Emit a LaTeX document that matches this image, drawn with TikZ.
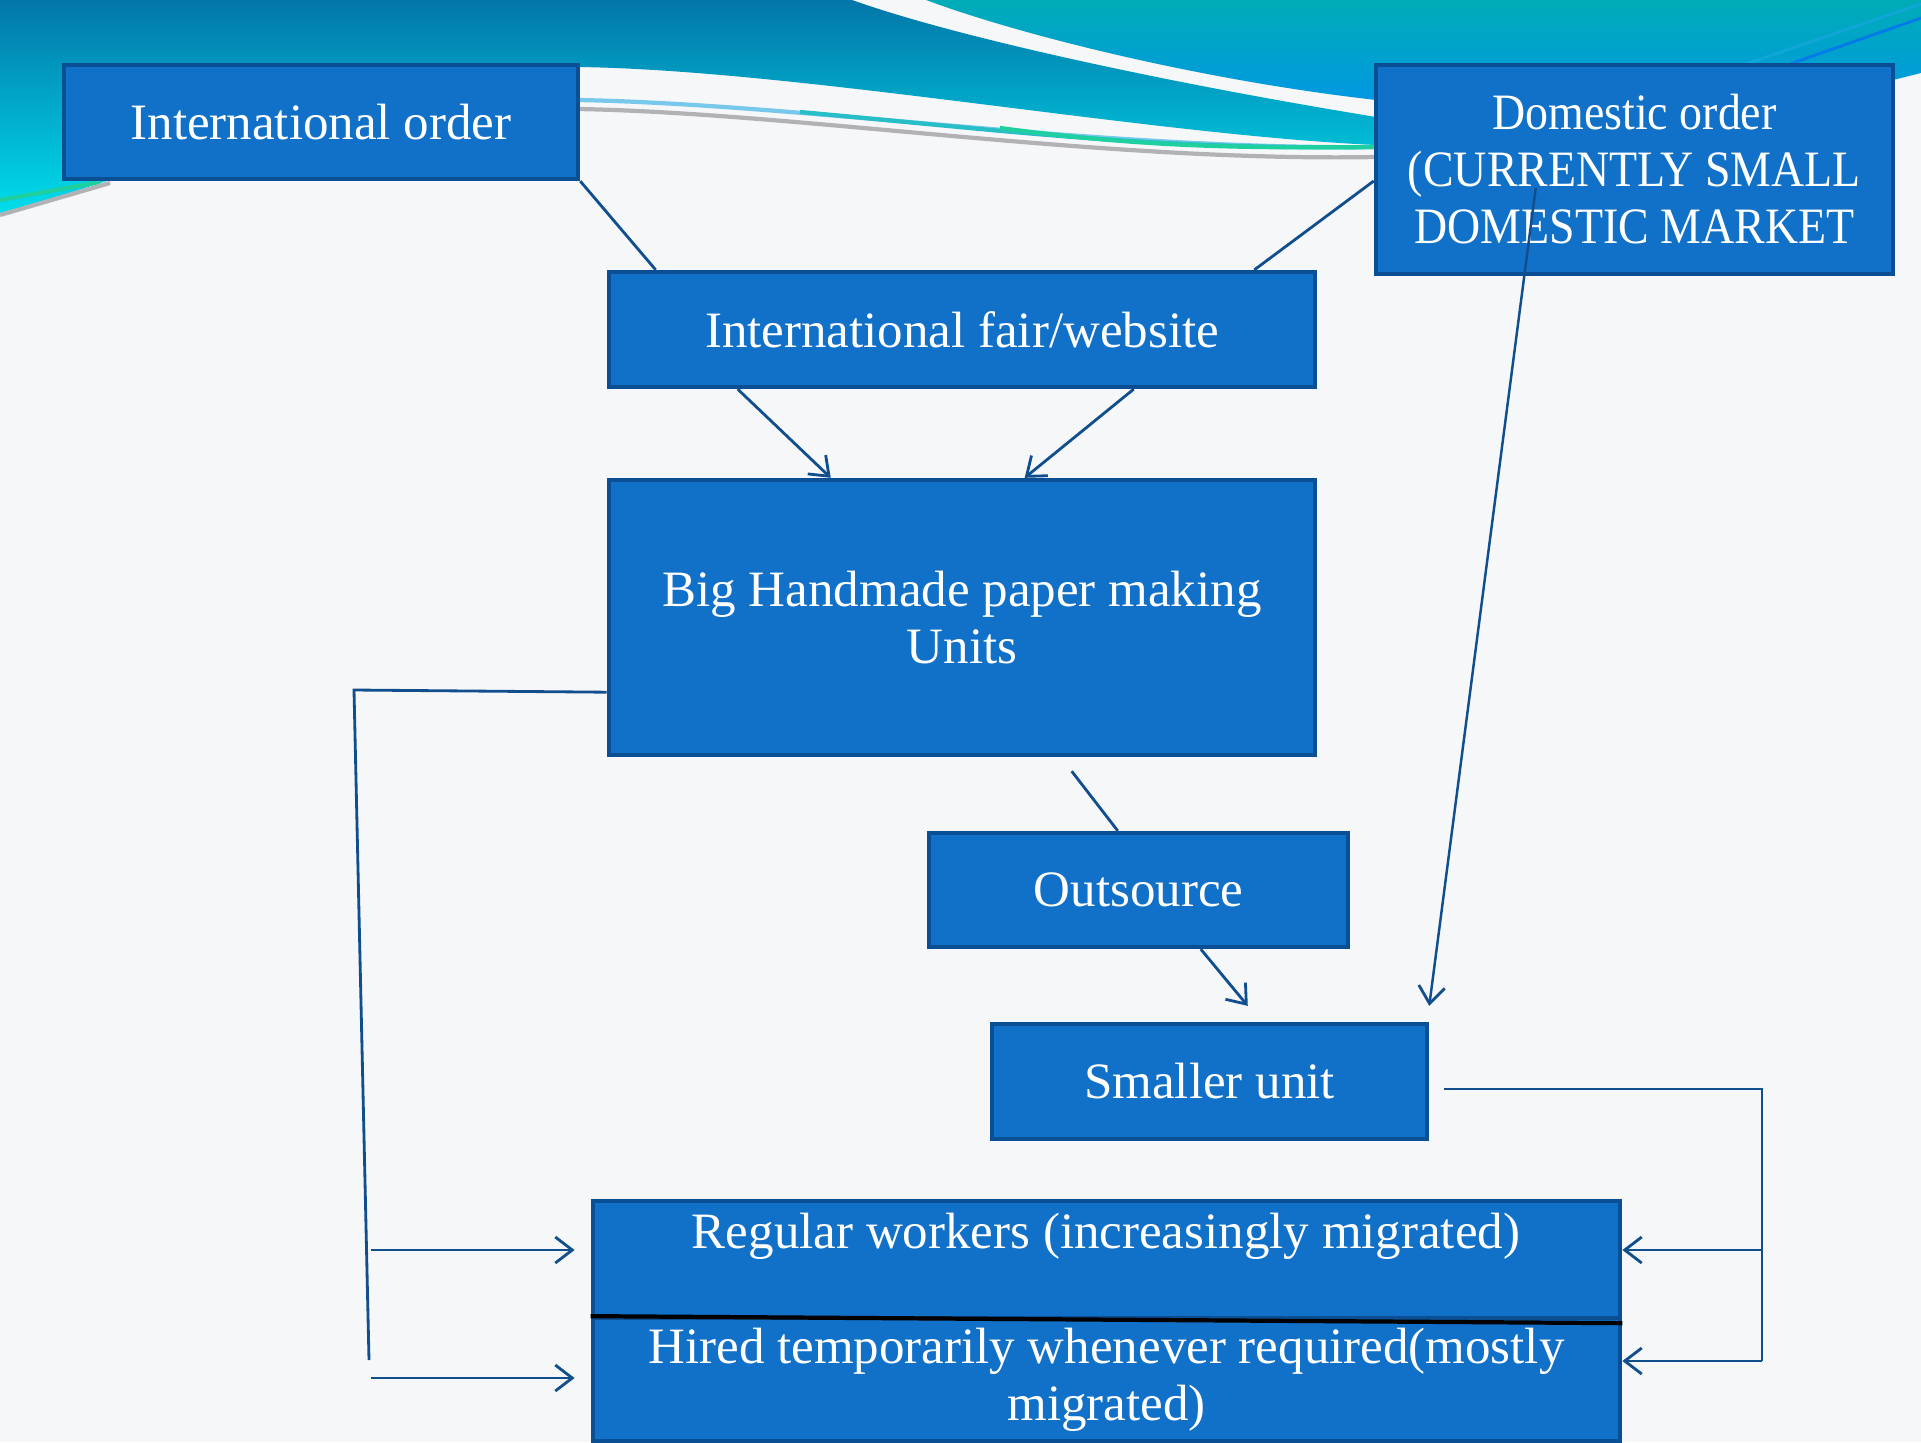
\documentclass[tikz,border=0pt]{standalone}
\usepackage{fontspec}
\setmainfont{Liberation Serif}
\usetikzlibrary{arrows.meta,calc}
\definecolor{bgcol}{RGB}{246,247,248}
\definecolor{boxfill}{RGB}{17,112,200}
\definecolor{boxborder}{RGB}{10,78,148}
\definecolor{linkcol}{RGB}{17,78,142}
\definecolor{bandtopL}{RGB}{2,118,168}
\definecolor{bandbotL}{RGB}{0,222,236}
\definecolor{bandtopR}{RGB}{0,172,182}
\definecolor{bandbotR}{RGB}{0,152,226}
\definecolor{ribteal}{RGB}{40,190,200}
\definecolor{ribgreen}{RGB}{30,208,160}
\definecolor{ribgrey}{RGB}{178,178,182}
\definecolor{ribblue}{RGB}{120,200,235}
\newcommand{\boxfont}{\fontsize{14.5pt}{16.2pt}\selectfont}
\tikzset{
  box/.style={rectangle, draw=boxborder, line width=1.2pt, fill=boxfill,
    text=white, font=\boxfont, align=center, inner sep=0pt},
  link/.style={draw=linkcol, line width=0.8pt},
  arrowlink/.style={link, -{Straight Barb[length=1.7mm,width=2.6mm,line width=0.8pt]}},
  ribbon/.style={line width=1.2pt}
}
\begin{document}
\begin{tikzpicture}[x=0.01cm,y=-0.01cm]
\useasboundingbox (0,0) rectangle (1921,1442);
\fill[bgcol] (0,0) rectangle (1921,1442);
% top banner, left wave
\shade[top color=bandtopL, bottom color=bandbotL]
  (0,0) -- (852,0) .. controls (950,35) and (1150,80) .. (1376,117)
  -- (1376,145) .. controls (1150,135) and (800,70) .. (578,67)
  -- (110,180) -- (0,215) -- cycle;
% top banner, right wave
\shade[top color=bandtopR, bottom color=bandbotR]
  (926,0) -- (1921,0) -- (1921,73) -- (1893,80) -- (1700,100) -- (1376,100)
  .. controls (1200,80) and (1020,35) .. (926,0) -- cycle;
\draw[line width=0.8pt, color=ribteal!40!bandbotR] (1740,66) -- (1921,4);
\draw[line width=0.8pt, color=bandbotR!80!blue] (1790,64) -- (1921,18);
% ribbons
\draw[ribbon, color=ribblue] (578,100) .. controls (800,104) and (1100,150) .. (1376,147);
\draw[ribbon, color=ribteal] (800,112) .. controls (1000,130) and (1150,150) .. (1376,147);
\draw[ribbon, color=ribgreen] (1000,128) .. controls (1150,148) and (1250,148) .. (1376,147);
\draw[ribbon, color=ribgrey] (578,109) .. controls (800,113) and (1100,162) .. (1376,157);
\draw[ribbon, color=ribgreen] (0,200) -- (100,182);
\draw[ribbon, color=ribgrey] (0,215) -- (110,183);

% boxes
\node[box, minimum width=5.14cm, minimum height=1.14cm] (io) at (321,122) {International order};
\node[box, minimum width=5.17cm, minimum height=2.09cm, font=\boxfont\addfontfeature{FakeStretch=0.9}] (dom) at (1634.5,169.5) {Domestic order\\(CURRENTLY SMALL\\DOMESTIC MARKET};
\node[box, minimum width=7.06cm, minimum height=1.15cm] (fair) at (962,329.5) {International fair/website};
\node[box, minimum width=7.06cm, minimum height=2.75cm] (big) at (962,617.5) {Big Handmade paper making\\Units};
\node[box, minimum width=4.19cm, minimum height=1.14cm] (out) at (1138.5,890) {Outsource};
\node[box, minimum width=4.35cm, minimum height=1.15cm] (sm) at (1209.5,1081.5) {Smaller unit};
\node[box, minimum width=10.27cm, minimum height=1.17cm] (reg) at (1106.5,1259.5) {};
\node[box, minimum width=10.27cm, minimum height=1.23cm] (hired) at (1106.5,1379.5) {Hired temporarily whenever required(mostly\\migrated)};
\node[text=white, font=\boxfont, inner sep=0pt] (regtext) at (1106,1236) {Regular workers (increasingly migrated)};
\draw[black, line width=1.2pt] ($(reg.south west)+(0,-4)$) -- ($(reg.south east)+(0,3)$);

% connectors
\draw[link] (io.south east) -- ($(fair.north west)+(49,0)$);
\draw[link] ($(dom.west)+(0,11.5)$) -- ($(fair.north east)+(-63,0)$);
\draw[arrowlink] ($(fair.south west)+(131,0)$) -- ($(big.north west)+(224,0)$);
\draw[arrowlink] ($(fair.south west)+(527,0)$) -- ($(big.north west)+(418,0)$);
\draw[link] ($(big.south west)+(465,14)$) -- ($(out.north west)+(191,0)$);
\draw[arrowlink] ($(out.south west)+(274,0)$) -- ($(sm.north west)+(258,-16)$);
\draw[arrowlink, line width=0.7pt] ($(dom.north west)+(162,125)$) -- ($(sm.north east)+(0,-16)$);
% left loop
\coordinate (lc1) at (354,690);
\coordinate (lc2) at (369,1360);
\draw[link] ($(big.south west)+(0,-65)$) -- (lc1) -- (lc2);
\draw[arrowlink] (371,1250) -- ($(reg.west)+(-16,-9.5)$);
\draw[arrowlink] (371,1378) -- ($(hired.west)+(-16,-1.5)$);
% right loop
\coordinate (rc1) at (1762,1089);
\coordinate (rc2) at (1762,1361);
\draw[link] ($(sm.east)+(15,7.5)$) -- (rc1) -- (rc2);
\draw[arrowlink] (1762,1250) -- ($(reg.east)+(0,-9.5)$);
\draw[arrowlink] (rc2) -- ($(hired.east)+(0,-18.5)$);
\end{tikzpicture}
\end{document}
